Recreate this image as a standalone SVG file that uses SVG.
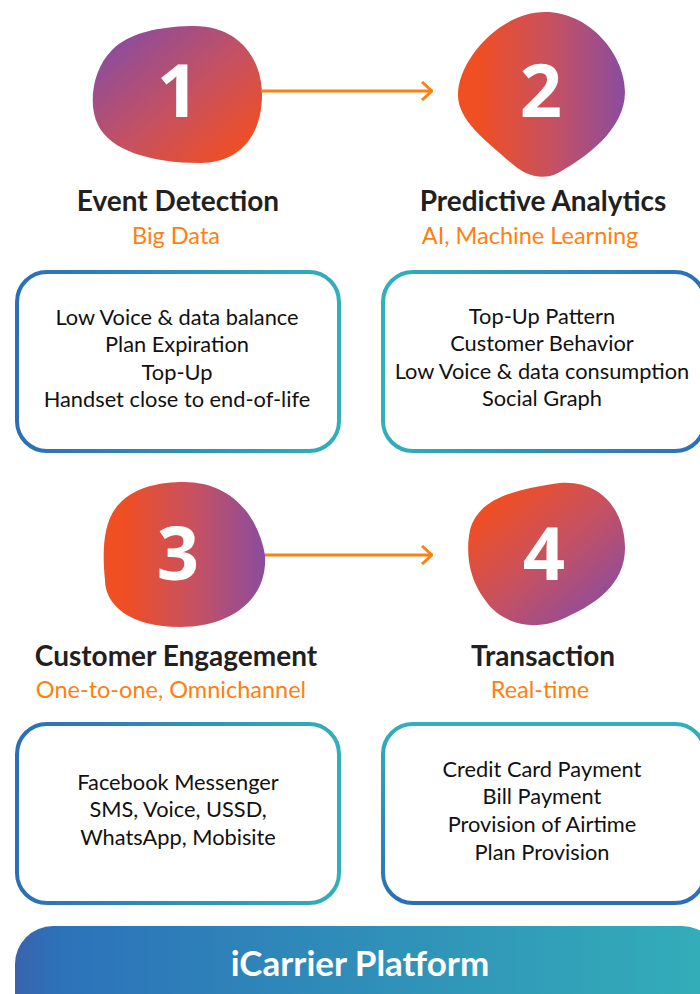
<svg xmlns="http://www.w3.org/2000/svg" width="700" height="994" viewBox="0 0 700 994">
  <defs>
    <linearGradient id="gDiag" x1="0" y1="0" x2="1" y2="1">
      <stop offset="0.1" stop-color="#8A4C9F"/>
      <stop offset="0.55" stop-color="#C8515F"/>
      <stop offset="0.9" stop-color="#F04E23"/>
    </linearGradient>
    <linearGradient id="gDiagRev" x1="0" y1="0" x2="1" y2="1">
      <stop offset="0.15" stop-color="#F04E23"/>
      <stop offset="0.5" stop-color="#C8515F"/>
      <stop offset="0.9" stop-color="#8A4C9F"/>
    </linearGradient>
    <linearGradient id="gHoriz" x1="0" y1="0" x2="1" y2="0">
      <stop offset="0.12" stop-color="#F04E23"/>
      <stop offset="0.55" stop-color="#C8515F"/>
      <stop offset="1" stop-color="#8A4C9F"/>
    </linearGradient>
    <linearGradient id="gBlueTeal" x1="0" y1="0" x2="1" y2="0">
      <stop offset="0" stop-color="#2B6FB7"/>
      <stop offset="1" stop-color="#32AFB8"/>
    </linearGradient>
    <linearGradient id="gTealBlue" x1="0" y1="0" x2="1" y2="0">
      <stop offset="0" stop-color="#32AFB8"/>
      <stop offset="1" stop-color="#2B6FB7"/>
    </linearGradient>
    <linearGradient id="gTealBlueV" x1="0" y1="0" x2="0" y2="1">
      <stop offset="0" stop-color="#32AFB8"/>
      <stop offset="1" stop-color="#2B6FB7"/>
    </linearGradient>
    <linearGradient id="gBar" x1="0" y1="0" x2="1" y2="0">
      <stop offset="0" stop-color="#3A63AE"/>
      <stop offset="0.06" stop-color="#2C72B9"/>
      <stop offset="1" stop-color="#33AFB8"/>
    </linearGradient>
    <marker id="chev" viewBox="0 0 12 20" refX="11" refY="10" markerWidth="12" markerHeight="20" markerUnits="userSpaceOnUse" orient="auto">
      <path d="M1 1 L11 10 L1 19" fill="none" stroke="#FF7F0F" stroke-width="3"/>
    </marker>
  </defs>
  <style>
    .num { font-family: "Open Sans", "Liberation Sans", sans-serif; font-weight: 700; font-size: 74px; fill: #fff; text-anchor: middle; }
    .title { font-family: "Lato", "Open Sans", sans-serif; font-weight: 700; font-size: 28px; fill: #231F20; text-anchor: middle; }
    .sub { font-family: "Lato", "Open Sans", sans-serif; font-size: 23.5px; fill: #FF7F0F; text-anchor: middle; }
    .body { font-family: "Lato", "Open Sans", sans-serif; font-size: 21.8px; fill: #111; text-anchor: middle; }
    .box { fill: #fff; stroke-width: 4; }
    .link { stroke: #FF7F0F; stroke-width: 3; fill: none; }
    .bar-label { font-family: "Lato", "Open Sans", sans-serif; font-weight: 700; font-size: 35px; fill: #fff; text-anchor: middle; }
  </style>

  <!-- step 1 -->
  <g id="step1">
    <path d="M190 26 C235 24 262 55 262 95 C262 135 240 163 200 163 C150 163 110 150 98 125 C88 105 92 70 112 50 C130 32 160 27 190 26 Z" fill="url(#gDiag)"/>
    <text class="num" x="178" y="117">1</text>
    <text class="title" x="178" y="211">Event Detection</text>
    <text class="sub" x="176" y="244">Big Data</text>
  </g>
  <g id="box1">
    <rect class="box" x="17" y="272" width="322" height="179" rx="30" stroke="url(#gBlueTeal)"/>
    <text class="body" x="177" y="325">Low Voice &amp; data balance</text>
    <text class="body" x="177" y="352">Plan Expiration</text>
    <text class="body" x="177" y="380">Top-Up</text>
    <text class="body" x="177" y="407">Handset close to end-of-life</text>
  </g>

  <!-- step 2 -->
  <g id="step2">
    <path d="M545 12 C590 12 625 55 625 92 C625 130 585 158 558 173 C542 181 525 176 510 162 C485 140 458 120 458 95 C458 60 500 12 545 12 Z" fill="url(#gHoriz)"/>
    <text class="num" x="541" y="117">2</text>
    <text class="title" x="543" y="211">Predictive Analytics</text>
    <text class="sub" x="530" y="244">AI, Machine Learning</text>
  </g>
  <g id="box2">
    <rect class="box" x="383" y="272" width="322" height="179" rx="30" stroke="url(#gTealBlue)"/>
    <text class="body" x="542" y="324">Top-Up Pattern</text>
    <text class="body" x="542" y="351">Customer Behavior</text>
    <text class="body" x="542" y="379">Low Voice &amp; data consumption</text>
    <text class="body" x="542" y="406">Social Graph</text>
  </g>

  <!-- step 3 -->
  <g id="step3">
    <path d="M180 482 C230 480 258 515 265 555 C268 600 230 627 180 627 C130 627 105 605 105 580 C102 550 103 520 120 503 C135 488 155 483 180 482 Z" fill="url(#gHoriz)"/>
    <text class="num" x="178" y="580">3</text>
    <text class="title" x="176" y="666">Customer Engagement</text>
    <text class="sub" x="171" y="698">One-to-one, Omnichannel</text>
  </g>
  <g id="box3">
    <rect class="box" x="17" y="724" width="322" height="179" rx="30" stroke="url(#gBlueTeal)"/>
    <text class="body" x="178" y="790">Facebook Messenger</text>
    <text class="body" x="178" y="817">SMS, Voice, USSD,</text>
    <text class="body" x="178" y="845">WhatsApp, Mobisite</text>
  </g>

  <!-- step 4 -->
  <g id="step4">
    <path d="M560 483 C605 480 625 515 625 548 C625 585 595 605 560 620 C530 632 500 622 485 600 C470 580 465 555 470 530 C478 500 510 490 560 483 Z" fill="url(#gDiagRev)"/>
    <text class="num" x="544" y="580">4</text>
    <text class="title" x="543" y="666">Transaction</text>
    <text class="sub" x="540" y="698">Real-time</text>
  </g>
  <g id="box4">
    <rect class="box" x="383" y="724" width="322" height="179" rx="30" stroke="url(#gTealBlueV)"/>
    <text class="body" x="542" y="777">Credit Card Payment</text>
    <text class="body" x="542" y="804">Bill Payment</text>
    <text class="body" x="542" y="832">Provision of Airtime</text>
    <text class="body" x="542" y="860">Plan Provision</text>
  </g>

  <!-- platform bar -->
  <g id="platform">
    <rect x="15" y="926" width="705" height="110" rx="38" fill="url(#gBar)"/>
    <text class="bar-label" x="360" y="976">iCarrier Platform</text>
  </g>

  <!-- connectors -->
  <g id="connectors">
    <line class="link" x1="262" y1="91" x2="432" y2="91" marker-end="url(#chev)"/>
    <line class="link" x1="265" y1="555" x2="432" y2="555" marker-end="url(#chev)"/>
  </g>
</svg>
